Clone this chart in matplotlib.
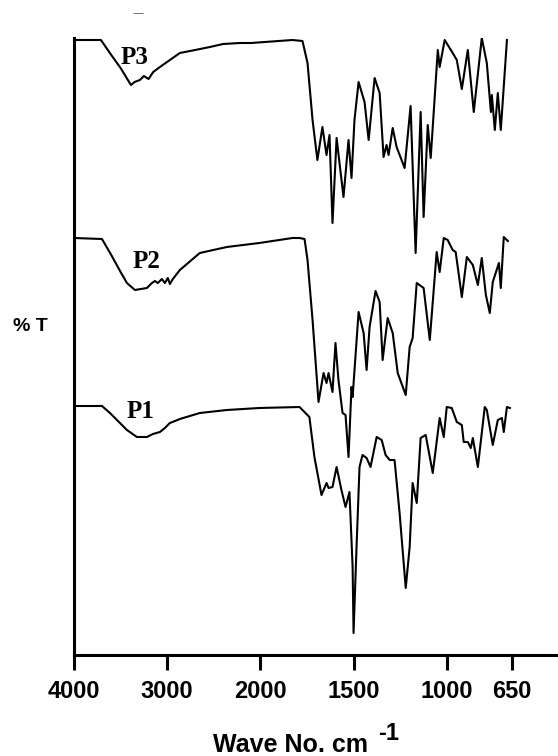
import numpy as np
import matplotlib
matplotlib.use('Agg')
from matplotlib import pyplot as plt

# FTIR spectra, wavenumber (cm-1) vs. offset %T (arbitrary units)
p3_wn = [4000, 3711, 3600, 3500, 3389, 3350, 3293, 3250, 3200, 3150,
         3078, 2864, 2700, 2542, 2400, 2221, 2100, 1828, 1774, 1747,
         1720, 1694, 1667, 1645, 1629, 1613, 1591, 1554, 1527, 1511,
         1495, 1473, 1441, 1419, 1387, 1360, 1339, 1323, 1312, 1290,
         1269, 1226, 1194, 1167, 1140, 1124, 1102, 1086, 1048, 1038,
         1011, 968, 946, 919, 887, 855, 812, 785, 763, 758,
         742, 726, 710, 677]
p3_t = [615, 615, 600, 587, 570, 573, 575, 579, 576, 583,
        588, 602, 605, 608, 611, 612, 612, 615, 614, 592,
        535, 495, 528, 500, 520, 432, 517, 458, 515, 477,
        535, 573, 553, 515, 577, 562, 498, 510, 500, 527,
        508, 487, 549, 402, 543, 438, 530, 497, 605, 588,
        615, 602, 595, 566, 605, 543, 617, 592, 543, 560,
        525, 562, 525, 615]

p2_wn = [4000, 3700, 3600, 3500, 3432, 3346, 3218, 3164, 3132, 3100,
         3057, 3025, 2993, 2971, 2939, 2864, 2650, 2360, 2011, 1828,
         1790, 1763, 1747, 1720, 1688, 1661, 1645, 1634, 1613, 1597,
         1581, 1559, 1543, 1527, 1511, 1505, 1473, 1446, 1430, 1414,
         1382, 1360, 1344, 1317, 1290, 1263, 1220, 1199, 1183, 1161,
         1124, 1091, 1054, 1038, 1016, 995, 968, 952, 919, 892,
         860, 833, 812, 790, 769, 753, 720, 710, 694, 672]
p2_t = [417, 416, 400, 383, 372, 365, 367, 372, 374, 372,
        376, 372, 377, 371, 376, 385, 402, 408, 412, 417,
        417, 416, 395, 335, 253, 282, 272, 282, 263, 312,
        275, 242, 240, 198, 268, 258, 343, 322, 285, 328,
        364, 353, 295, 337, 322, 282, 260, 308, 317, 372,
        367, 315, 403, 383, 417, 415, 405, 403, 358, 398,
        390, 370, 397, 360, 342, 373, 392, 367, 418, 414]

p1_wn = [4000, 3700, 3614, 3432, 3325, 3218, 3153, 3078, 3025, 2971,
         2864, 2650, 2360, 2011, 1790, 1737, 1710, 1672, 1645, 1634,
         1613, 1591, 1565, 1543, 1522, 1505, 1500, 1484, 1468, 1452,
         1430, 1409, 1376, 1349, 1328, 1306, 1280, 1253, 1220, 1199,
         1183, 1161, 1140, 1113, 1075, 1038, 1016, 1000, 973, 946,
         919, 909, 887, 871, 860, 833, 796, 785, 753, 726,
         704, 694, 677, 661]
p1_t = [249, 249, 242, 225, 218, 218, 221, 223, 227, 232,
        236, 242, 245, 247, 248, 238, 198, 160, 172, 167,
        168, 188, 165, 148, 163, 88, 22, 108, 188, 200,
        197, 188, 218, 215, 200, 195, 195, 142, 67, 108,
        172, 152, 217, 220, 182, 237, 218, 248, 247, 233,
        230, 213, 213, 207, 217, 188, 248, 245, 210, 235,
        237, 223, 248, 247]

labels = ['P3', 'P2', 'P1']
label_pos = [(3346, 598), (3218, 393), (3282, 243)]
tick_vals = [4000, 3000, 2000, 1500, 1000, 650]


# half scale above 2000 cm-1, as on the instrument printout
def fwd(w):
    w = np.asarray(w, dtype=float)
    return np.where(w > 2000, 2000 + (w - 2000) / 2.0, w)


def inv(u):
    u = np.asarray(u, dtype=float)
    return np.where(u > 2000, 2000 + (u - 2000) * 2.0, u)


fig = plt.figure(figsize=(5.58, 7.56), dpi=100)
ax = fig.add_axes([74 / 558, 101 / 756, 484 / 558, 617 / 756])
ax.set_xscale('function', functions=(fwd, inv))

for wn, t in [(p3_wn, p3_t), (p2_wn, p2_t), (p1_wn, p1_t)]:
    ax.plot(wn, t, color='black', lw=1.5, solid_joinstyle='round')

for lab, (x, y) in zip(labels, label_pos):
    ax.text(x, y, lab, family='Liberation Serif', fontweight='bold',
            fontsize=18, ha='center', va='center')

ax.set_xlim(4000, 403)
ax.set_ylim(0, 617)
ax.spines['top'].set_visible(False)
ax.spines['right'].set_visible(False)
ax.spines['left'].set_linewidth(2.2)
ax.spines['bottom'].set_linewidth(2.2)
ax.set_yticks([])
ax.set_xticks(tick_vals)
ax.set_xticklabels([str(v) for v in tick_vals], family='Liberation Sans',
                   fontweight='bold', fontsize=17)
ax.xaxis.set_minor_locator(matplotlib.ticker.NullLocator())
ax.tick_params(axis='x', direction='out', length=11, width=2.2, pad=7)

fig.text(13 / 558, 1 - 331 / 756, '% T', family='Liberation Sans',
         fontweight='bold', fontsize=14, va='baseline')
fig.text(213 / 558, 1 - 752 / 756, 'Wave No. cm', family='Liberation Sans',
         fontweight='bold', fontsize=18, va='baseline')
fig.text(378 / 558, 1 - 740 / 756, '-1', family='Liberation Sans',
         fontweight='bold', fontsize=17, va='baseline')
fig.text(138 / 558, 1 - 13 / 756, '\u2014', fontsize=8, color='0.35',
         ha='center', va='center')

fig.savefig('out.png', dpi=100)
